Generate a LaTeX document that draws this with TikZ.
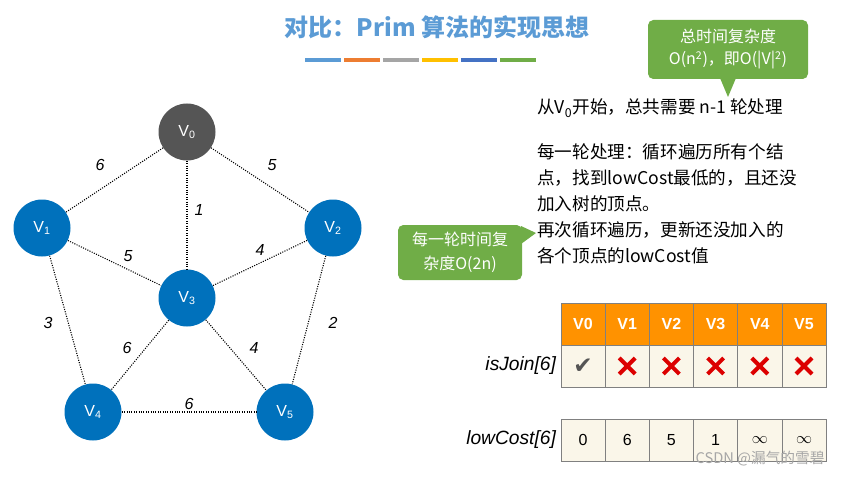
\documentclass[tikz,border=0pt]{standalone}
\usepackage{fontspec}
\setmainfont{Noto Sans CJK SC}
\newfontfamily\latin{Liberation Sans}
\newfontfamily\symb{DejaVu Sans}
\usepackage{xcolor}
\definecolor{node_blue}{RGB}{0,113,188}
\definecolor{node_gray}{RGB}{85,85,85}
\definecolor{title_blue}{RGB}{91,155,213}
\definecolor{bar_orange}{RGB}{237,125,49}
\definecolor{bar_gray}{RGB}{165,165,165}
\definecolor{bar_yellow}{RGB}{255,192,0}
\definecolor{bar_blue}{RGB}{68,114,196}
\definecolor{call_green}{RGB}{112,173,71}
\definecolor{head_orange}{RGB}{255,146,0}
\definecolor{cell_bg}{RGB}{250,246,233}
\definecolor{cross_red}{RGB}{220,0,0}
\usetikzlibrary{positioning}

\tikzset{
  vertex/.style={circle, fill=node_blue, minimum size=57pt*0.75, inner sep=0pt, text=white, font=\latin\large},
  edge/.style={densely dotted, thick},
  weight/.style={font=\latin\large\itshape},
  note/.style={anchor=west, inner sep=0pt, font=\fontsize{13.2}{13.2}\selectfont},
  cell/.style={draw=gray, minimum width=44.2*0.75pt, minimum height=42*0.75pt, inner sep=0pt, fill=cell_bg, font=\latin\large}
}

\begin{document}
\begin{tikzpicture}[x=0.75pt, y=-0.75pt]
\useasboundingbox (0,0) rectangle (857,478);

% title
\node[text=title_blue, font=\fontsize{18}{18}\selectfont\bfseries] (title) at (437,27) {对比：Prim 算法的实现思想};
\foreach \x/\c in {305/title_blue, 344/bar_orange, 383/bar_gray, 422/bar_yellow, 461/bar_blue, 500/call_green}
  \fill[\c] (\x,58) rectangle ++(36,4);

% graph
\node[vertex, fill=node_gray] (v0) at (187,132) {V\textsubscript{0}};
\node[vertex] (v1) at (42,228) {V\textsubscript{1}};
\node[vertex] (v2) at (333,228) {V\textsubscript{2}};
\node[vertex] (v3) at (187,298) {V\textsubscript{3}};
\node[vertex] (v4) at (93,412) {V\textsubscript{4}};
\node[vertex] (v5) at (285,412) {V\textsubscript{5}};

\draw[edge] (v0) -- (v1);
\draw[edge] (v0) -- (v2);
\draw[edge] (v0) -- (v3);
\draw[edge] (v1) -- (v3);
\draw[edge] (v2) -- (v3);
\draw[edge] (v1) -- (v4);
\draw[edge] (v2) -- (v5);
\draw[edge] (v3) -- (v4);
\draw[edge] (v3) -- (v5);
\draw[edge] (v4) -- (v5);

\node[weight] (w01) at (100,165) {6};
\node[weight] (w02) at (272,165) {5};
\node[weight] (w03) at (199,210) {1};
\node[weight] (w13) at (128,256) {5};
\node[weight] (w23) at (260,250) {4};
\node[weight] (w14) at (48,323) {3};
\node[weight] (w25) at (333,323) {2};
\node[weight] (w34) at (127,348) {6};
\node[weight] (w35) at (254,348) {4};
\node[weight] (w45) at (189,404) {6};

% notes
\node[note] (start) at (537,108) {从V\textsubscript{0}开始，总共需要 n-1 轮处理};
\node[note, align=left, font=\fontsize{13.2}{19.5}\selectfont] (round) at (537,204)
  {每一轮处理：循环遍历所有个结\\点，找到lowCost最低的，且还没\\加入树的顶点。\\再次循环遍历，更新还没加入的\\各个顶点的lowCost值};

% callouts
\fill[call_green, rounded corners=4pt] (648,20) rectangle (808,79);
\fill[call_green] (720,78) -- (736,78) -- (728,97) -- cycle;
\node[text=white, align=center, font=\fontsize{12}{17}\selectfont] (total) at (728,49) {总时间复杂度\\O(n\textsuperscript{2})，即O(|V|\textsuperscript{2})};
\fill[call_green, rounded corners=4pt] (398,225) rectangle (522,280);
\fill[call_green] (521,226) -- (536,233) -- (521,244) -- cycle;
\node[text=white, align=center, font=\fontsize{12}{18}\selectfont] (each) at (460,252) {每一轮时间复\\杂度O(2n)};

% table
\foreach \i in {0,...,5} {
  \node[cell, fill=head_orange, text=white, font=\latin\large\bfseries] (h\i) at (583+44.2*\i,324) {V\i};
  \node[cell] (j\i) at (583+44.2*\i,366) {};
  \node[cell] (c\i) at (583+44.2*\i,440) {};
}
\node[text=node_gray, font=\symb\LARGE] at (j0) {✔};
\foreach \i in {1,...,5}
  \draw[cross_red, line width=3pt] ([shift={(-8,-8)}]j\i.center) -- ([shift={(8,8)}]j\i.center)
    ([shift={(-8,8)}]j\i.center) -- ([shift={(8,-8)}]j\i.center);
\foreach \i/\v in {0/0, 1/6, 2/5, 3/1, 4/$\infty$, 5/$\infty$}
  \node[font=\latin\large] at (c\i) {\v};
\node[anchor=east, font=\latin\Large\itshape] (isjoin) at (j0.west) {isJoin[6]};
\node[anchor=east, font=\latin\Large\itshape] (lowcost) at (c0.west) {lowCost[6]};

\node[text=gray!70, font=\fontsize{11}{11}\selectfont] (mark) at (760,459) {CSDN @漏气的雪碧};
\end{tikzpicture}
\end{document}
